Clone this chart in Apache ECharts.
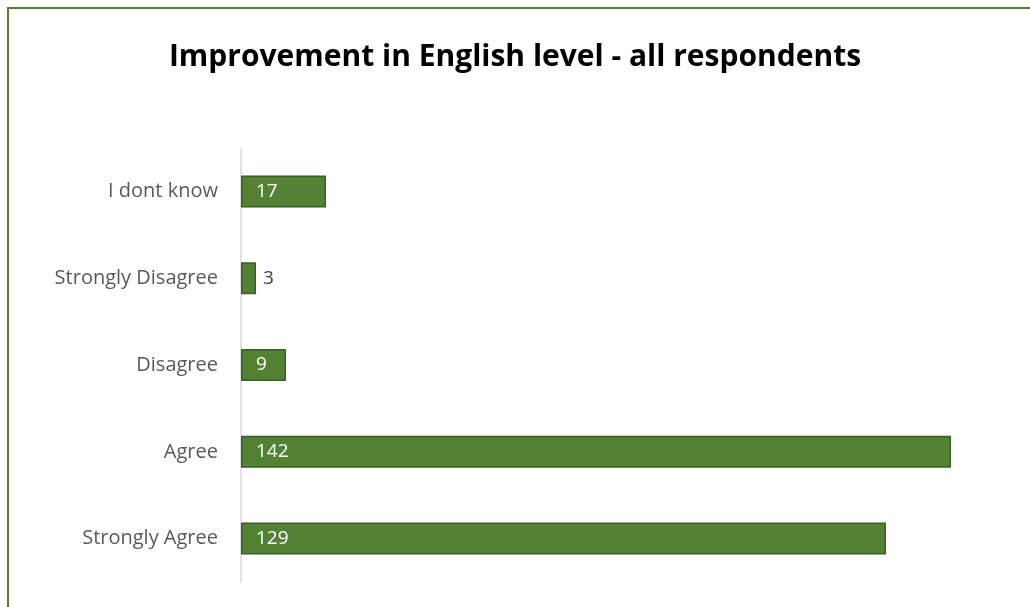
<!DOCTYPE html>
<html>
<head>
<meta charset="utf-8">
<script src="https://cdn.jsdelivr.net/npm/echarts@6/dist/echarts.min.js"></script>
<style>
html,body{margin:0;padding:0;background:#fff;}
#chart{width:1030px;height:607px;}
</style>
</head>
<body>
<div id="chart"></div>
<script>
const categories = ['Strongly Agree', 'Agree', 'Disagree', 'Strongly Disagree', 'I dont know'];
const values = [129, 142, 9, 3, 17];
const titleText = 'Improvement in English level - all respondents';

const chart = echarts.init(document.getElementById('chart'));
const font = '"Open Sans", Calibri, sans-serif';
const dataItems = values.map(function (v) {
  if (v < 5) {
    return { value: v, label: { position: 'right', distance: 7, color: '#404040' } };
  }
  return { value: v };
});
chart.setOption({
  animation: false,
  backgroundColor: '#fff',
  title: {
    text: titleText,
    left: 'center',
    top: 37,
    textStyle: { fontFamily: font, fontWeight: 'bold', fontSize: 30, color: '#000' }
  },
  graphic: [{
    type: 'rect',
    shape: { x: 8, y: 8, width: 1060, height: 640 },
    style: { fill: 'none', stroke: '#548235', lineWidth: 2 },
    silent: true
  }],
  grid: { left: 241, top: 148, width: 750, bottom: 25, containLabel: false },
  xAxis: {
    type: 'value', min: 0, max: 150,
    show: false, splitLine: { show: false }
  },
  yAxis: {
    type: 'category',
    data: categories,
    axisLine: { show: true, lineStyle: { color: '#d9d9d9', width: 1.5 } },
    axisTick: { show: false },
    axisLabel: { margin: 23, fontFamily: font, fontSize: 20, color: '#595959' }
  },
  series: [{
    type: 'bar',
    data: dataItems,
    barWidth: 32,
    itemStyle: { color: '#548235', borderColor: '#3b5e27', borderWidth: 1.5 },
    label: {
      show: true, position: 'insideLeft', distance: 15,
      fontFamily: font, fontSize: 19, color: '#fff'
    }
  }]
});
</script>
</body>
</html>
